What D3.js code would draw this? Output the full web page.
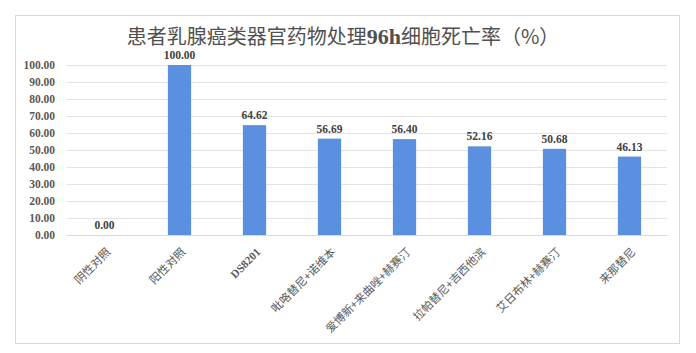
<!DOCTYPE html>
<html><head><meta charset="utf-8">
<script src="https://cdn.jsdelivr.net/npm/d3@7"></script>
<style>body{margin:0;background:#fff}svg{display:block}</style>
</head><body>
<script>
const categories = ["阴性对照","阳性对照","DS8201","吡咯替尼+诺维本","爱博新+来曲唑+赫赛汀","拉帕替尼+吉西他滨","艾日布林+赫赛汀","来那替尼"];
const values = [0.00,100.00,64.62,56.69,56.40,52.16,50.68,46.13];
const yTicks = [0,10,20,30,40,50,60,70,80,90,100];
const titleParts = ["患者乳腺癌类器官药物处理", "96h", "细胞死亡率（%）"];

const W = 696, H = 353;
const svg = d3.select("body").append("svg").attr("width", W).attr("height", H);
svg.append("rect").attr("x", 15.5).attr("y", 15.5).attr("width", 664).attr("height", 328)
  .attr("fill", "#fff").attr("stroke", "#d9d9d9");

const x = d3.scaleBand().domain(categories).range([67, 667]).paddingInner(0.69).paddingOuter(0.345);
const y = d3.scaleLinear().domain([0, 100]).range([235, 65]);

const grid = svg.append("g").attr("transform", "translate(67,0)")
  .call(d3.axisLeft(y).tickValues(yTicks).tickSize(-600).tickFormat(""));
grid.select(".domain").remove();
grid.selectAll("line").attr("stroke", "#e3e3e3");

const ya = svg.append("g").attr("transform", "translate(55,0)")
  .call(d3.axisLeft(y).tickValues(yTicks).tickSize(0).tickPadding(0).tickFormat(d3.format(".2f")));
ya.select(".domain").remove();
ya.selectAll("text").attr("font-family", "Liberation Serif").attr("font-weight", "bold")
  .attr("font-size", 11.5).attr("fill", "#595959");

svg.append("g").selectAll("rect").data(values).join("rect")
  .attr("x", (d, i) => x(categories[i])).attr("width", x.bandwidth())
  .attr("y", d => y(d)).attr("height", d => y(0) - y(d)).attr("fill", "#5b8fdf");

svg.append("g").selectAll("text").data(values).join("text")
  .attr("x", (d, i) => x(categories[i]) + x.bandwidth() / 2)
  .attr("y", d => y(d) - 6).attr("text-anchor", "middle")
  .attr("font-family", "Liberation Serif").attr("font-weight", "bold").attr("font-size", 11.5)
  .attr("fill", "#404040").text(d => d3.format(".2f")(d));

const xa = svg.append("g").attr("transform", "translate(0,235)")
  .call(d3.axisBottom(x).tickSize(0).tickPadding(0));
xa.select(".domain").attr("stroke", "#d9d9d9");
xa.selectAll("text")
  .attr("font-family", d => /^[A-Za-z0-9]/.test(d) ? "Liberation Serif" : "Noto Sans CJK SC")
  .attr("font-weight", d => /^[A-Za-z0-9]/.test(d) ? "bold" : "normal")
  .attr("font-size", 11.3).attr("fill", "#595959")
  .attr("text-anchor", "end").attr("dy", "0.35em")
  .attr("transform", "translate(4,15) rotate(-45)");

const t = svg.append("text").attr("x", 343).attr("y", 44).attr("text-anchor", "middle")
  .attr("font-family", "Noto Sans CJK SC").attr("font-size", 20).attr("fill", "#505050");
t.selectAll("tspan").data(titleParts).join("tspan")
  .attr("font-family", (d, i) => i === 1 ? "Liberation Serif" : "Noto Sans CJK SC")
  .attr("font-weight", (d, i) => i === 1 ? "bold" : "normal")
  .attr("font-size", (d, i) => i === 1 ? 22 : 20)
  .text(d => d);
</script>
</body></html>
